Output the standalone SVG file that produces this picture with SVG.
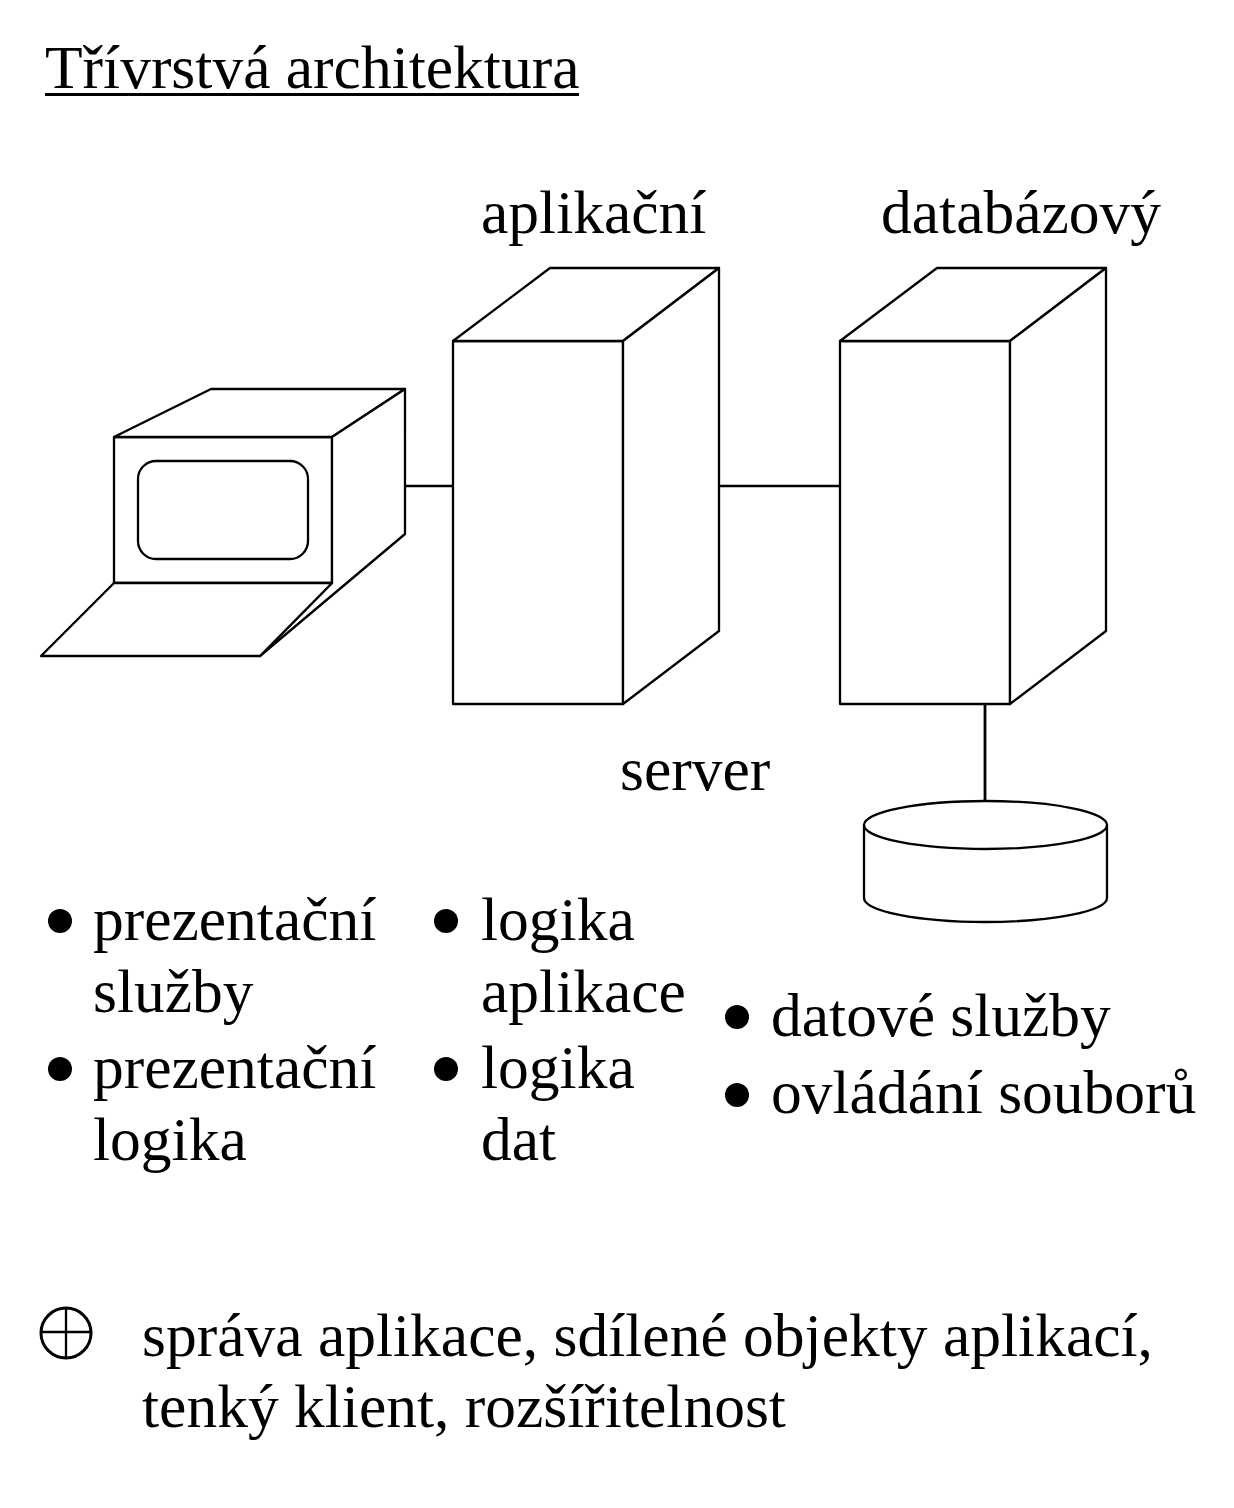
<svg xmlns="http://www.w3.org/2000/svg" width="1234" height="1508" viewBox="0 0 1234 1508">
<style>
text{font-family:"Liberation Serif","Times New Roman",serif;font-size:61.5px;fill:#000}
.s{fill:#fff;stroke:#000;stroke-width:2.300;stroke-linejoin:round}
.c{fill:none;stroke:#000;stroke-width:2.300}
.d{fill:#000;stroke:none}
</style>
<rect width="1234" height="1508" fill="#fff"/>
<text id="title" x="45" y="88">Třívrstvá architektura</text>
<rect x="45" y="93" width="534" height="3" fill="#000"/>
<g id="connectors">
<path class="c" d="M405 486H453"/>
<path class="c" d="M719 486H840"/>
<path class="c" d="M985 704V801" style="stroke-width:2.800"/>
</g>
<g id="client">
<path class="s" d="M114 437H332V583H114Z"/>
<path class="s" d="M114 437L211 389H405L332 437Z"/>
<path class="s" d="M332 437L405 389V534L260 656L332 583Z"/>
<path class="s" d="M114 583H332L260 656H41Z"/>
<rect class="s" x="138" y="461" width="170" height="98" rx="18"/>
</g>
<g id="app-server">
<path class="s" d="M453 341H623V704H453Z"/>
<path class="s" d="M453 341L550 268H719L623 341Z"/>
<path class="s" d="M623 341L719 268V631L623 704Z"/>
<text x="481" y="233">aplikační</text>
</g>
<g id="db-server">
<path class="s" d="M840 341H1010V704H840Z"/>
<path class="s" d="M840 341L937 268H1106L1010 341Z"/>
<path class="s" d="M1010 341L1106 268V631L1010 704Z"/>
<text x="881" y="233">databázový</text>
</g>
<text id="server" x="620" y="790">server</text>
<g id="database">
<path class="s" d="M864 825V898C864 911 918 922 985 922S1107 911 1107 898V825Z"/>
<ellipse class="s" cx="985.500" cy="825" rx="121.500" ry="24"/>
</g>
<g id="list-presentation">
<circle class="d" cx="60" cy="921" r="12"/>
<text x="93" y="940">prezentační</text>
<text x="93" y="1012">služby</text>
<circle class="d" cx="60" cy="1069" r="12"/>
<text x="93" y="1088">prezentační</text>
<text x="93" y="1160">logika</text>
</g>
<g id="list-app">
<circle class="d" cx="446" cy="921" r="12"/>
<text x="481" y="940">logika</text>
<text x="481" y="1012">aplikace</text>
<circle class="d" cx="446" cy="1069" r="12"/>
<text x="481" y="1088">logika</text>
<text x="481" y="1160">dat</text>
</g>
<g id="list-data">
<circle class="d" cx="737" cy="1017" r="12"/>
<text x="771" y="1036">datové služby</text>
<circle class="d" cx="737" cy="1095" r="12"/>
<text x="771" y="1113">ovládání souborů</text>
</g>
<g id="note">
<circle class="c" cx="66" cy="1333" r="25" style="stroke-width:3"/>
<path class="c" d="M41 1332H91M66 1308V1358"/>
<text x="142" y="1356">správa aplikace, sdílené objekty aplikací,</text>
<text x="142" y="1427">tenký klient, rozšířitelnost</text>
</g>
</svg>
